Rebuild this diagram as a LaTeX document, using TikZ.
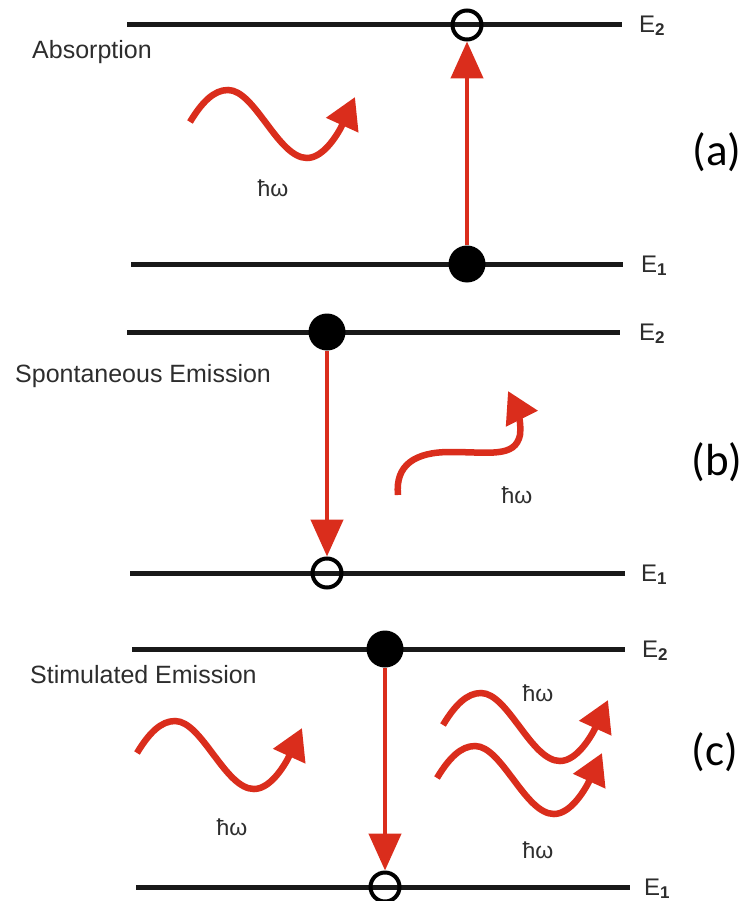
\documentclass[tikz,border=0pt]{standalone}
\usepackage{fontspec}
\setmainfont{Liberation Sans}
\newfontfamily\calibri{Carlito}
\usetikzlibrary{arrows.meta}
\definecolor{photonred}{RGB}{218,45,28}
\definecolor{labelgray}{RGB}{45,45,45}
\newcommand{\lvl}[1]{E\raisebox{-3pt}{\fontsize{17}{17}\selectfont\bfseries #1}}

\begin{document}
\begin{tikzpicture}[x=1pt,y=1pt, every node/.style={font=\fontsize{25}{25}\selectfont,text=labelgray,inner sep=0pt}, level/.style={line width=5pt,draw=black!90}, elabel/.style={anchor=base west,font=\fontsize{24}{24}\selectfont}, hw/.style={font=\fontsize{23}{23}\selectfont}, full/.style={circle,fill=black,minimum size=37pt}, hole/.style={circle,draw=black,line width=4pt,minimum size=29pt}, jump/.style={photonred,line width=4.5pt,-{Triangle[length=37pt,width=32pt]}}, wave/.style={photonred,line width=6.5pt,-{Triangle[length=31pt,width=34pt]}}, tag/.style={font=\calibri\fontsize{45}{45}\selectfont,text=black}, photon/.pic={\draw[wave] (0,0) .. controls (12,20) and (24,32) .. (38,32) .. controls (65,32) and (88,-36) .. (117,-36) .. controls (135,-36) and (150,-8) .. (165,25);}]
\useasboundingbox (0,0) rectangle (755,-901);
% (a) absorption
\draw[level] (127,-25) -- (622,-25); \node[elabel] (a-e2) at (639,-33) {\lvl{2}};
\draw[level] (131,-264) -- (623,-264); \node[elabel] (a-e1) at (641,-272) {\lvl{1}};
\node[anchor=west] (a-name) at (32,-52) {Absorption};
\node[hole] (a-up) at (467,-25) {};
\node[full] (a-low) at (467,-264) {};
\draw[jump] (a-low) -- (a-up);
\pic at (190,-122) {photon};
\node[hw] (a-hw) at (273,-188) {ħω};
\node[tag] (a-tag) at (717,-152) {(a)};
% (b) spontaneous emission
\draw[level] (127,-332) -- (620,-332); \node[elabel] (b-e2) at (639,-340) {\lvl{2}};
\draw[level] (130,-573) -- (625,-573); \node[elabel] (b-e1) at (641,-581) {\lvl{1}};
\node[anchor=west] (b-name) at (15,-376) {Spontaneous Emission};
\node[full] (b-up) at (327,-332) {};
\node[hole] (b-low) at (327,-573) {};
\draw[jump] (b-up) -- (b-low);
\draw[wave] (398,-495) .. controls (395,-465) and (415,-452) .. (450,-452) .. controls (490,-452) and (515,-458) .. (520,-435) .. controls (522,-420) and (515,-405) .. (508,-391);
\node[hw] (b-hw) at (517,-495) {ħω};
\node[tag] (b-tag) at (717,-462) {(b)};
% (c) stimulated emission
\draw[level] (132,-649) -- (625,-649); \node[elabel] (c-e2) at (642,-657) {\lvl{2}};
\draw[level] (136,-887) -- (630,-887); \node[elabel] (c-e1) at (644,-895) {\lvl{1}};
\node[anchor=west] (c-name) at (30,-675) {Stimulated Emission};
\node[full] (c-up) at (385,-649) {};
\node[hole] (c-low) at (385,-887) {};
\draw[jump] (c-up) -- (c-low);
\pic at (137,-753) {photon};
\pic at (443,-725) {photon};
\pic at (437,-778) {photon};
\node[hw] (c-hw) at (232,-827) {ħω};
\node[hw] (c-hw2) at (538,-693) {ħω};
\node[hw] (c-hw3) at (538,-850) {ħω};
\node[tag] (c-tag) at (715,-752) {(c)};
\end{tikzpicture}
\end{document}
